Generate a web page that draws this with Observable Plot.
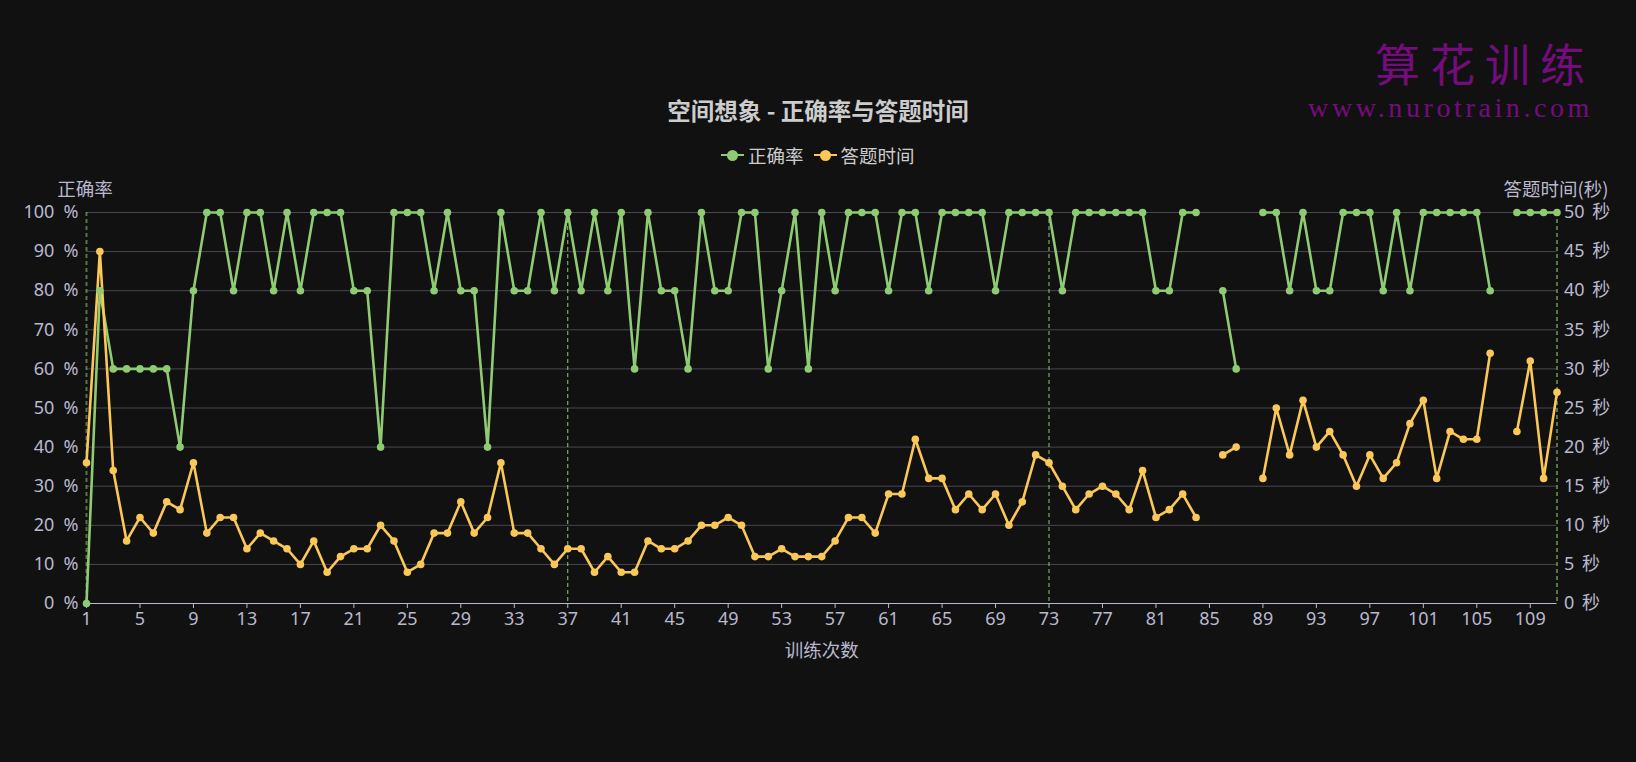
<!DOCTYPE html>
<html lang="zh">
<head>
<meta charset="utf-8">
<script src="https://cdn.jsdelivr.net/npm/d3@7"></script>
<script src="https://cdn.jsdelivr.net/npm/@observablehq/plot@0.6"></script>
<style>
  html, body { margin: 0; padding: 0; background: #111; overflow: hidden; width: 1636px; height: 762px; }
  body { position: relative; font-family: "Noto Sans", "Noto Sans CJK SC", sans-serif; }
  #header { position: relative; height: 180px; }
  #title { position: absolute; left: 0; width: 1636px; top: 94px; text-align: center; font: bold 23.5px/32px "Noto Sans CJK SC", sans-serif; color: #ccc; }
  #legend { position: absolute; left: 721px; top: 141px; display: flex; align-items: center; font: 18.5px/28px "Noto Sans CJK SC", sans-serif; color: #ccc; }
  .key { display: inline-block; position: relative; width: 23px; height: 12px; margin-right: 4px; }
  .key::before { content: ""; position: absolute; left: 0; right: 0; top: 5px; height: 2px; background: var(--c); }
  .key::after { content: ""; position: absolute; left: 6px; top: 1px; width: 11px; height: 11px; border-radius: 50%; background: var(--c); }
  .lab { margin-right: 10px; }
  .axis-name { position: absolute; top: 173px; width: 140px; text-align: center; font: 18.5px/30px "Noto Sans CJK SC", sans-serif; color: #b9b8ce; }
  #left-name { left: 15px; }
  #right-name { left: 1486px; }
  #brand { position: absolute; right: 41px; top: 35px; text-align: right; color: #750c7e; white-space: nowrap; }
  #brand .cn { font: 45px/56px "Noto Sans CJK SC", sans-serif; letter-spacing: 10px; height: 56px; }
  #brand .en { font: 28px/30px "Liberation Serif", serif; letter-spacing: 3.6px; margin: 2px 2px 0 0; }
  svg { display: block; }
</style>
</head>
<body>
<div id="header">
  <div id="title">空间想象 - 正确率与答题时间</div>
  <div id="legend"></div>
  <div id="left-name" class="axis-name">正确率</div>
  <div id="right-name" class="axis-name">答题时间(秒)</div>
  <div id="brand"><div class="cn">算花训练</div><div class="en">www.nurotrain.com</div></div>
</div>
<div id="chart"></div>
<script>
const seriesNames = ["正确率", "答题时间"];
const seriesColors = ["#8fcb72", "#fac858"];
const accuracy = [0,80,60,60,60,60,60,40,80,100,100,80,100,100,80,100,80,100,100,100,80,80,40,100,100,100,80,100,80,80,40,100,80,80,100,80,100,80,100,80,100,60,100,80,80,60,100,80,80,100,100,60,80,100,60,100,80,100,100,100,80,100,100,80,100,100,100,100,80,100,100,100,100,80,100,100,100,100,100,100,80,80,100,100,null,80,60,null,100,100,80,100,80,80,100,100,100,80,100,80,100,100,100,100,100,80,null,100,100,100,100];
const seconds = [18,45,17,8,11,9,13,12,18,9,11,11,7,9,8,7,5,8,4,6,7,7,10,8,4,5,9,9,13,9,11,18,9,9,7,5,7,7,4,6,4,4,8,7,7,8,10,10,11,10,6,6,7,6,6,6,8,11,11,9,14,14,21,16,16,12,14,12,14,10,13,19,18,15,12,14,15,14,12,17,11,12,14,11,null,19,20,null,16,25,19,26,20,22,19,15,19,16,18,23,26,16,22,21,21,32,null,22,31,16,27];
const xTicks = [1,5,9,13,17,21,25,29,33,37,41,45,49,53,57,61,65,69,73,77,81,85,89,93,97,101,105,109];
const percentTicks = [0,10,20,30,40,50,60,70,80,90,100];
const secondTicks = [0,5,10,15,20,25,30,35,40,45,50];
const edgeMarkers = [1,111];
const innerMarkers = [37,73];

const rows = accuracy.map((a, i) => ({n: i + 1, a, s: seconds[i]}));
// Both series share one vertical scale: 50 seconds spans the same height as 100 %.
const secToPct = s => s == null ? null : s * 100 / d3.max(secondTicks);

const legend = document.getElementById("legend");
seriesNames.forEach((name, i) => {
  const k = document.createElement("span"); k.className = "key"; k.style.setProperty("--c", seriesColors[i]);
  const l = document.createElement("span"); l.className = "lab"; l.textContent = name;
  legend.append(k, l);
});

const textColor = "#b9b8ce";
const font = '"Noto Sans", "Noto Sans CJK SC", sans-serif';
const [green, orange] = seriesColors;

const chart = Plot.plot({
  width: 1636,
  height: 582,
  marginLeft: 86,
  marginRight: 79.5,
  marginTop: 32,
  marginBottom: 159,
  style: {background: "transparent", color: textColor, fontFamily: font, fontSize: "18px"},
  x: {type: "linear", domain: [1, 111]},
  y: {type: "linear", domain: [0, 100]},
  marks: [
    Plot.gridY(percentTicks, {stroke: "#484753", strokeOpacity: 1, strokeWidth: 1}),
    Plot.ruleX(edgeMarkers, {stroke: green, strokeOpacity: 0.55, strokeWidth: 2, strokeDasharray: "4 3"}),
    Plot.ruleX(innerMarkers, {stroke: green, strokeWidth: 1, strokeDasharray: "4 3"}),
    Plot.ruleY([0], {stroke: textColor, strokeWidth: 1.2}),
    Plot.axisX({ticks: xTicks, tickFormat: d => String(d), tickSize: 5, tickPadding: 4, stroke: textColor, fill: textColor, fontSize: 18, label: null}),
    Plot.axisY({anchor: "left", ticks: percentTicks, tickFormat: d => `${d} %`, tickSize: 0, tickPadding: 8, fill: textColor, fontSize: 18, label: null}),
    Plot.axisY({anchor: "right", ticks: percentTicks, tickFormat: (d, i) => `${secondTicks[i]} 秒`, tickSize: 0, tickPadding: 7, fill: textColor, fontSize: 18, label: null}),
    Plot.text(["训练次数"], {text: d => d, frameAnchor: "bottom", dy: 53, fill: textColor, fontSize: 18.5}),
    Plot.line(rows, {x: "n", y: "a", stroke: green, strokeWidth: 2.6}),
    Plot.line(rows, {x: "n", y: d => secToPct(d.s), stroke: orange, strokeWidth: 2.6}),
    Plot.dot(rows.filter(d => d.s != null), {x: "n", y: d => secToPct(d.s), r: 3.8, fill: orange}),
    Plot.dot(rows.filter(d => d.a != null), {x: "n", y: "a", r: 3.8, fill: green})
  ]
});
const yLabels = d3.select(chart).selectAll('g[aria-label="y-axis tick label"]');
yLabels.filter((_, i) => i === 0).style("word-spacing", "4.5px");
yLabels.filter((_, i) => i === 1).style("word-spacing", "3px");
document.getElementById("chart").append(chart);
</script>
</body>
</html>
